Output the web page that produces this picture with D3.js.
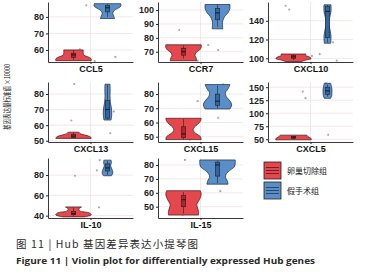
<!DOCTYPE html>
<html>
  <head>
    <meta charset="utf-8" />
    <title>Hub gene violins</title>
    <script src="https://d3js.org/d3.v7.min.js"></script>
    <style>
      body { margin: 0; background: #fff; }
      text { font-family: "Liberation Sans", Arial, sans-serif; }
    </style>
  </head>
  <body>
    <svg id="chart"></svg>
    <script>

      // ---- data ----
      var genes = ["CCL5", "CCR7", "CXCL10", "CXCL13", "CXCL15", "CXCL5", "IL-10", "IL-15"];
      var groups = ["卵巢切除组", "假手术组"];

      var yTicks = [
        [60, 70, 80], [70, 80, 90, 100], [100, 120, 140],
        [50, 60, 70, 80], [50, 60, 70, 80], [50, 75, 100, 125, 150],
        [40, 60, 80], [50, 60, 70, 80]
      ];
      var yLimits = [
        [52.7, 89], [62.6, 105.8], [96, 160],
        [49.2, 87.7], [46.3, 88.5], [44.8, 160],
        [37.7, 96.8], [41.9, 85]
      ];

      // violin extent (min, max) per gene
      var ovxRange = [[53.5, 60], [63.5, 75], [96.5, 104.5], [51.5, 55.5], [48, 63], [49, 58], [38.8, 48.6], [44, 61.5]];
      var shamRange = [[79, 88], [86.5, 104], [116, 157], [63.3, 86.3], [69.5, 86.7], [128.6, 157.5], [79.3, 94.7], [66.2, 83.6]];

      // relative density, from min up to max
      var ovxDensity = [
        [1.0, 1.0, 0.85, 0.6, 0.55, 0.55, 0.55],
        [0.75, 0.72, 0.65, 0.7, 0.9, 1.0, 1.0],
        [0.45, 0.7, 1.0, 0.9, 0.7, 0.7],
        [1.0, 0.95, 0.7, 0.4, 0.3],
        [1.0, 0.95, 0.7, 0.55, 0.6, 0.8, 0.95, 1.0],
        [1.0, 1.0, 0.9, 0.8, 0.75],
        [0.6, 1.0, 0.9, 0.35, 0.3, 0.45],
        [0.85, 0.85, 0.8, 0.75, 0.85, 0.95, 1.0, 0.95]
      ];
      var shamDensity = [
        [0.4, 0.35, 0.3, 0.35, 0.55, 0.75, 0.75],
        [0.3, 0.28, 0.3, 0.4, 0.6, 0.7, 0.7],
        [0.18, 0.2, 0.15, 0.08, 0.12, 0.2, 0.2],
        [0.2, 0.24, 0.22, 0.16, 0.14, 0.15, 0.14],
        [0.7, 0.8, 0.7, 0.5, 0.45, 0.6, 0.7],
        [0.18, 0.24, 0.25, 0.25, 0.22, 0.18],
        [0.22, 0.3, 0.28, 0.22, 0.18, 0.22, 0.2],
        [0.6, 0.55, 0.45, 0.5, 0.7, 0.95, 1.0, 1.0]
      ];

      // box: whisker low, q1, median, q3, whisker high
      var ovxBox = [
        [54, 55.5, 57, 58, 60], [65, 67.5, 70, 72.5, 74.5], [98, 100, 101.5, 103, 104],
        [51.5, 52, 53, 54, 55.5], [48, 49.5, 52, 57, 62.5], [50, 52, 54, 55, 57],
        [39, 41, 42, 44, 48], [45, 50, 55, 58, 60.5]
      ];
      var shamBox = [
        [80, 83, 85.5, 87, 88], [88, 93, 98, 101, 104], [117, 122, 150, 155, 157],
        [63.5, 64.5, 70, 76, 86], [70, 72, 75, 80, 86], [132, 136, 143, 150, 155],
        [80, 84, 87, 91, 94], [67, 72, 80, 82, 83]
      ];

      // jittered samples: gene index, x offset (category units), value
      var samples = [
        [0, -0.15, 60.4], [0, -0.06, 87], [0, 0.06, 53.3], [0, 0.35, 55.8], [0, 0.40, 86.5],
        [1, -0.30, 85.8], [1, -0.04, 63.5], [1, 0.11, 74.8], [1, 0.25, 71.2], [1, 0.40, 103.8],
        [2, -0.35, 156], [2, -0.30, 152], [2, 0.02, 102.5], [2, 0.13, 104.3], [2, 0.32, 117], [2, 0.37, 97.5],
        [3, -0.23, 86.4], [3, -0.27, 63], [3, 0.33, 68.7], [3, 0.28, 54.8],
        [4, -0.04, 75], [4, 0.25, 63.3], [4, 0.32, 86.8], [4, -0.15, 48], [4, -0.36, 49.5],
        [5, -0.11, 141.7], [5, -0.07, 129], [5, 0.25, 58.5], [5, 0.22, 157.5],
        [6, -0.22, 79.3], [6, 0.13, 94.7], [6, 0.09, 84.7], [6, 0.12, 48.2], [6, -0.05, 40.8],
        [7, -0.22, 83.6], [7, 0.28, 61.2], [7, -0.25, 44.3]
      ];

      // ---- layout ----
      var width = 366, height = 275;
      var colX = [48, 158, 268];
      var rowY = [2, 82, 158];
      var panelW = 85, panelH = 60;
      var fills = ["#e5474c", "#5a8ec9"];
      var strokes = ["#3d1416", "#172a40"];
      var boxFills = ["#b3252b", "#2e67a3"];
      var dodge = [-0.24, 0.24];

      var svg = d3.select("#chart")
        .attr("width", width)
        .attr("height", height);

      var x = d3.scaleLinear().domain([-0.6, 0.6]).range([0, panelW]);
      var halfW = d3.scaleLinear().domain([0, 1]).range([0, 0.25]);

      genes.forEach(function(gene, i) {
        var g = svg.append("g")
          .attr("transform", "translate(" + colX[i % 3] + "," + rowY[Math.floor(i / 3)] + ")");

        var y = d3.scaleLinear().domain(yLimits[i]).range([panelH, 0]);

        // grid
        g.selectAll(".hgrid").data(yTicks[i]).enter().append("line")
          .attr("x1", 0).attr("x2", panelW)
          .attr("y1", function(d) { return y(d); })
          .attr("y2", function(d) { return y(d); })
          .attr("stroke", "#ecdcdf").attr("stroke-width", 0.7);
        g.append("line")
          .attr("x1", x(0)).attr("x2", x(0))
          .attr("y1", 0).attr("y2", panelH)
          .attr("stroke", "#ecdcdf").attr("stroke-width", 0.7);

        // jittered points
        g.selectAll(".pt").data(samples.filter(function(d) { return d[0] === i; }))
          .enter().append("circle")
          .attr("cx", function(d) { return x(d[1]); })
          .attr("cy", function(d) { return y(d[2]); })
          .attr("r", 1.1)
          .attr("fill", "#a9a9a9");

        // violins + boxes
        [[ovxRange, ovxDensity, ovxBox], [shamRange, shamDensity, shamBox]].forEach(function(set, k) {
          var lo = set[0][i][0], hi = set[0][i][1];
          var dens = set[1][i];
          var prof = dens.map(function(d, j) {
            return { v: lo + (hi - lo) * j / (dens.length - 1), w: d };
          });
          var cx = dodge[k];
          var area = d3.area()
            .y(function(d) { return y(d.v); })
            .x0(function(d) { return x(cx - halfW(d.w)); })
            .x1(function(d) { return x(cx + halfW(d.w)); })
            .curve(d3.curveCatmullRom);
          g.append("path")
            .attr("d", area(prof))
            .attr("fill", fills[k])
            .attr("stroke", strokes[k])
            .attr("stroke-width", 0.7);

          var b = set[2][i];
          var bx = x(cx);
          g.append("line")
            .attr("x1", bx).attr("x2", bx)
            .attr("y1", y(b[0])).attr("y2", y(b[4]))
            .attr("stroke", "#222").attr("stroke-width", 0.6);
          g.append("rect")
            .attr("x", bx - 2.2).attr("width", 4.4)
            .attr("y", y(b[3])).attr("height", y(b[1]) - y(b[3]))
            .attr("fill", boxFills[k])
            .attr("stroke", "#222").attr("stroke-width", 0.6);
          g.append("line")
            .attr("x1", bx - 2.2).attr("x2", bx + 2.2)
            .attr("y1", y(b[2])).attr("y2", y(b[2]))
            .attr("stroke", "#111").attr("stroke-width", 0.9);
        });

        // axes
        var yAxis = d3.axisLeft(y).tickValues(yTicks[i]).tickSize(2).tickSizeOuter(0).tickPadding(2);
        var ya = g.append("g").call(yAxis);
        ya.selectAll("text")
          .attr("font-size", "9px").attr("font-weight", "bold").attr("fill", "#222");

        var xb = d3.scalePoint().domain([gene]).range([0, panelW]).padding(0.5);
        var xAxis = d3.axisBottom(xb).tickSize(2).tickSizeOuter(0).tickPadding(2);
        var xa = g.append("g").attr("transform", "translate(0," + panelH + ")").call(xAxis);
        xa.selectAll("text")
          .attr("font-size", "9px").attr("font-weight", "bold").attr("fill", "#111");

        svg.selectAll(".domain").attr("stroke", "#222").attr("stroke-width", 0.9);
        svg.selectAll(".tick line").attr("stroke", "#222");
      });

      // y title
      svg.append("text")
        .attr("transform", "translate(10,97) rotate(-90)")
        .attr("text-anchor", "middle")
        .attr("font-size", "7.5px")
        .attr("fill", "#222")
        .style("font-family", "'Noto Sans CJK SC', sans-serif")
        .attr("textLength", 66)
        .attr("lengthAdjust", "spacingAndGlyphs")
        .text("基因表达量标准值 ×10000");

      // legend
      var leg = svg.append("g").attr("transform", "translate(264,162)");
      groups.forEach(function(name, k) {
        var row = leg.append("g").attr("transform", "translate(0," + (k * 20) + ")");
        row.append("rect")
          .attr("width", 17).attr("height", 17)
          .attr("fill", fills[k]).attr("stroke", "#222").attr("stroke-width", 0.8);
        [5.5, 8.5, 11.5].forEach(function(ly) {
          row.append("line")
            .attr("x1", 2).attr("x2", 15).attr("y1", ly).attr("y2", ly)
            .attr("stroke", strokes[k]).attr("stroke-width", 0.7);
        });
        row.append("text")
          .attr("x", 23).attr("y", 9)
          .attr("dy", "0.35em")
          .attr("font-size", "8px")
          .attr("fill", "#222")
          .style("font-family", "'Noto Sans CJK SC', serif")
          .text(name);
      });

      // caption
      svg.append("text")
        .attr("x", 16).attr("y", 248)
        .attr("font-size", "10.5px")
        .attr("fill", "#2a2a2a")
        .style("font-family", "'Noto Sans CJK SC', sans-serif")
        .attr("textLength", 182)
        .attr("lengthAdjust", "spacing")
        .text("图 11 | Hub 基因差异表达小提琴图");
      svg.append("text")
        .attr("x", 16).attr("y", 264)
        .attr("font-size", "9px")
        .attr("font-weight", "bold")
        .attr("fill", "#2a2a2a")
        .style("font-family", "'Open Sans', sans-serif")
        .attr("textLength", 299)
        .attr("lengthAdjust", "spacingAndGlyphs")
        .text("Figure 11  |  Violin plot for differentially expressed Hub genes");

    </script>
  </body>
</html>
